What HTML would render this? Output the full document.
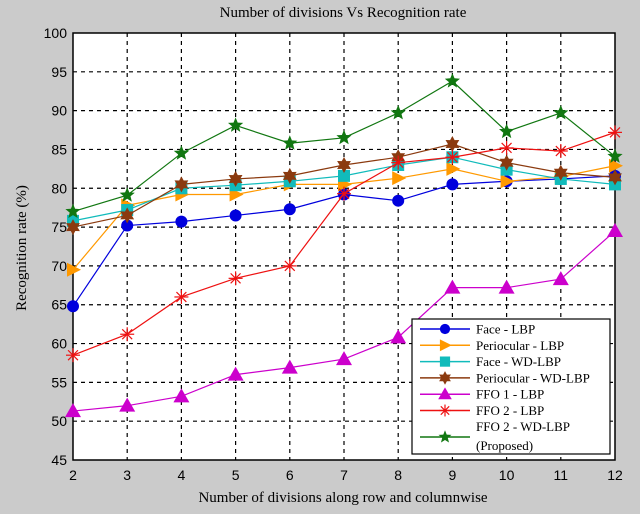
<!DOCTYPE html>
<html><head><meta charset="utf-8"><style>
body{margin:0;background:#cbcbcb;}
svg{display:block;}
</style></head><body>
<svg id="chart" width="640" height="514" xmlns="http://www.w3.org/2000/svg">
<rect x="0" y="0" width="640" height="514" fill="#cbcbcb"/>
<text x="343" y="17" text-anchor="middle" font-family="Liberation Serif, serif" font-size="15">Number of divisions Vs Recognition rate</text>
<text x="343" y="502" text-anchor="middle" font-family="Liberation Serif, serif" font-size="15">Number of divisions along row and columnwise</text>
<text transform="translate(26,248) rotate(-90)" text-anchor="middle" font-family="Liberation Serif, serif" font-size="15">Recognition rate (%)</text>
<g id="plot"></g>
</svg>
<script>
const xCats=[2,3,4,5,6,7,8,9,10,11,12];
const yTicks=[45,50,55,60,65,70,75,80,85,90,95,100];
const seriesNames=["Face - LBP","Periocular - LBP","Face - WD-LBP","Periocular - WD-LBP","FFO 1 - LBP","FFO 2 - LBP","FFO 2 - WD-LBP"];
const faceLBP=[64.8,75.2,75.7,76.5,77.3,79.2,78.4,80.5,80.9,81.2,81.6];
const periLBP=[69.5,77.8,79.2,79.2,80.5,80.5,81.3,82.5,80.9,81.5,82.9];
const faceWD=[75.8,77.2,80,80.4,80.9,81.6,83,84,82.4,81.2,80.5];
const periWD=[75,76.5,80.5,81.2,81.6,83,84,85.7,83.3,82,81.4];
const ffo1LBP=[51.3,52,53.2,56,56.9,58,60.8,67.2,67.2,68.3,74.5];
const ffo2LBP=[58.5,61.2,66,68.4,70,79.3,83.3,84,85.2,84.8,87.2];
const ffo2WD=[77,79.1,84.5,88.1,85.8,86.5,89.7,93.8,87.3,89.7,84.1];

const L=73,R=615,T=33,B=460,xMin=2,xMax=12,yMin=45,yMax=100;
const xs=v=>L+(v-xMin)/(xMax-xMin)*(R-L);
const ys=v=>B-(v-yMin)/(yMax-yMin)*(B-T);
const NS="http://www.w3.org/2000/svg";
const g=document.getElementById('plot');
function mk(tag,attrs,parent){const e=document.createElementNS(NS,tag);for(const k in attrs)e.setAttribute(k,attrs[k]);(parent||g).appendChild(e);return e;}

const frame=mk('rect',{x:L,y:T,width:R-L,height:B-T,fill:'#fff',stroke:'none'});


xCats.forEach(c=>{
  if(c>xMin&&c<xMax){const l=mk('line',{x1:xs(c),x2:xs(c),y1:T,y2:B,stroke:'#000','stroke-width':1.2,'stroke-dasharray':'4,4'});
  
  }
  const t=mk('text',{x:xs(c),y:B+20,'text-anchor':'middle','font-family':'Liberation Sans, sans-serif','font-size':14});
  t.textContent=c;
  
  
});
yTicks.forEach(v=>{
  if(v>yMin&&v<yMax){const l=mk('line',{x1:L,x2:R,y1:ys(v),y2:ys(v),stroke:'#000','stroke-width':1.2,'stroke-dasharray':'4,4'});
  
  }
  const t=mk('text',{x:L-6,y:ys(v)+5,'text-anchor':'end','font-family':'Liberation Sans, sans-serif','font-size':14});
  t.textContent=v;
  
  
});
const border=mk('rect',{x:L,y:T,width:R-L,height:B-T,fill:'none',stroke:'#000','stroke-width':1.5});



const colors=['#0000dd','#ff9900','#11bbbb','#8b3a0f','#cc00cc','#ee1111','#117711'];
const markers=['circle','tri-right','square','hexstar','tri-up','asterisk','star'];
const allData=[faceLBP,periLBP,faceWD,periWD,ffo1LBP,ffo2LBP,ffo2WD];
function marker(type,x,y,c,parent,s){
  s=s||1;let e;
  if(type==='circle')e=mk('circle',{cx:x,cy:y,r:6*s,fill:c},parent);
  else if(type==='tri-right')e=mk('polygon',{points:`${x-6*s},${y-7*s} ${x+8*s},${y} ${x-6*s},${y+7*s}`,fill:c},parent);
  else if(type==='square')e=mk('rect',{x:x-6*s,y:y-6*s,width:12*s,height:12*s,fill:c},parent);
  else if(type==='tri-up')e=mk('polygon',{points:`${x},${y-8*s} ${x+8*s},${y+6*s} ${x-8*s},${y+6*s}`,fill:c},parent);
  else if(type==='hexstar'||type==='star'){
    const n=type==='star'?5:6,ro=8*s,ri=(type==='star'?3.5:4.5)*s;let p=[];
    for(let i=0;i<2*n;i++){const a=-Math.PI/2+i*Math.PI/n,r=i%2?ri:ro;p.push((x+r*Math.cos(a)).toFixed(1)+','+(y+r*Math.sin(a)).toFixed(1));}
    e=mk('polygon',{points:p.join(' '),fill:c},parent);
  } else {
    e=mk('g',{stroke:c,'stroke-width':1.2},parent);
    for(let i=0;i<4;i++){const a=i*Math.PI/4;mk('line',{x1:x-7*s*Math.cos(a),y1:y-7*s*Math.sin(a),x2:x+7*s*Math.cos(a),y2:y+7*s*Math.sin(a)},e);}
  }
  return e;
}
allData.forEach((data,si)=>{
  const sg=mk('g',{});
  
  
  const pl=mk('polyline',{points:data.map((v,i)=>xs(xCats[i])+','+ys(v)).join(' '),fill:'none',stroke:colors[si],'stroke-width':1.2},sg);
  
  
  data.forEach((v,i)=>{const m=marker(markers[si],xs(xCats[i]),ys(v),colors[si],sg);
    
    });
});
// legend
const lg=mk('g',{});


mk('rect',{x:412,y:319,width:198,height:135,fill:'#fff',stroke:'#000','stroke-width':1.2},lg);
seriesNames.forEach((n,i)=>{
  const y=i<6?329+i*16.3:437;
  const ty=i<6?y+4.5:431;
  const eg=mk('g',{},lg);
  
  
  mk('line',{x1:420,x2:470,y1:y,y2:y,stroke:colors[i],'stroke-width':1.5},eg);
  marker(markers[i],445,y,colors[i],eg,0.85);
  const t=mk('text',{x:476,y:ty,'font-family':'Liberation Serif, serif','font-size':13},eg);
  t.textContent=n;
});
const pt=mk('text',{x:476,y:450,'font-family':'Liberation Serif, serif','font-size':13},lg);
pt.textContent='(Proposed)';


</script>
</body></html>
